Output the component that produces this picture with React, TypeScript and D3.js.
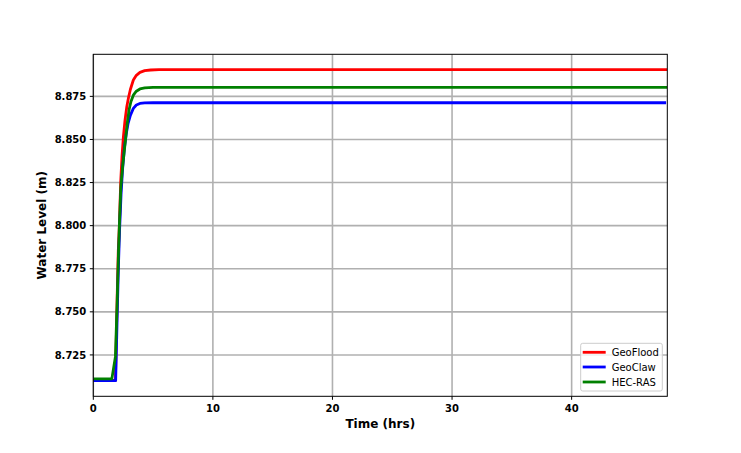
import React from "react";
import * as d3 from "d3";

const xTicks = [0, 10, 20, 30, 40];
const yTicks = [8.725, 8.75, 8.775, 8.8, 8.825, 8.85, 8.875];

const geoFloodT = [0, 1.85, 2.0, 2.09, 2.18, 2.29, 2.4, 2.51, 2.65, 2.8, 2.95, 3.1, 3.35, 3.6, 3.9, 4.3, 4.8, 5.5, 48];
const geoFloodV = [8.7102, 8.7102, 8.76, 8.7857, 8.8002, 8.8251, 8.840, 8.851, 8.861, 8.869, 8.8745, 8.879, 8.8845, 8.8872, 8.8889, 8.8899, 8.8903, 8.8905, 8.8905];

const geoClawT = [0, 1.87, 2.0, 2.1, 2.2, 2.32, 2.45, 2.6, 2.75, 2.9, 3.1, 3.35, 3.6, 3.9, 4.3, 5.0, 47.9];
const geoClawV = [8.7101, 8.7101, 8.748, 8.776, 8.798, 8.818, 8.833, 8.845, 8.853, 8.859, 8.864, 8.868, 8.870, 8.8709, 8.8712, 8.8713, 8.8713];

const hecRasT = [0, 1.55, 1.85, 2.0, 2.1, 2.18, 2.3, 2.45, 2.57, 2.71, 2.85, 3.0, 3.15, 3.35, 3.6, 3.9, 4.3, 5.0, 48];
const hecRasV = [8.7111, 8.7111, 8.724, 8.757, 8.783, 8.800, 8.822, 8.834, 8.842, 8.851, 8.860, 8.8675, 8.872, 8.8757, 8.878, 8.8793, 8.8799, 8.8802, 8.8802];

const seriesNames = ["GeoFlood", "GeoClaw", "HEC-RAS"];
const seriesColors = ["#ff0000", "#0000ff", "#008000"];

const W = 741, H = 453;
const L = 93.3, R = 667.3, T = 54.3, B = 396.3;
const FONT = "DejaVu Sans";

export default function App() {
  const x = d3.scaleLinear().domain([0, 48]).range([L, R]);
  const y = d3.scaleLinear().domain([8.7010, 8.8994]).range([B, T]);
  const line = d3.line<[number, number]>().x(d => x(d[0])).y(d => y(d[1]));
  const series = [
    d3.zip(geoFloodT, geoFloodV) as [number, number][],
    d3.zip(geoClawT, geoClawV) as [number, number][],
    d3.zip(hecRasT, hecRasV) as [number, number][],
  ];
  const drawOrder = [0, 1, 2];
  const legX = 580.7, legY = 343.3, legW = 81.6, legH = 47.7;
  const rowY = [352.3, 367, 382];
  return (
    <svg width={W} height={H} style={{ position: "absolute", left: 0, top: 0 }} fontFamily={FONT}>
      <rect width={W} height={H} fill="#fff" />
      <defs>
        <clipPath id="plot">
          <rect x={L} y={T} width={R - L} height={B - T} />
        </clipPath>
      </defs>
      {xTicks.map(t => (
        <line key={"gx" + t} x1={x(t)} x2={x(t)} y1={T} y2={B} stroke="#b0b0b0" strokeWidth={1.6} />
      ))}
      {yTicks.map(t => (
        <line key={"gy" + t} x1={L} x2={R} y1={y(t)} y2={y(t)} stroke="#b0b0b0" strokeWidth={1.6} />
      ))}
      <g clipPath="url(#plot)">
        {drawOrder.map(i => (
          <path key={i} d={line(series[i]) || ""} fill="none" stroke={seriesColors[i]} strokeWidth={2.8} strokeLinejoin="round" />
        ))}
      </g>
      <rect x={L} y={T} width={R - L} height={B - T} fill="none" stroke="#000" strokeWidth={1} />
      {xTicks.map(t => (
        <g key={"tx" + t}>
          <line x1={x(t)} x2={x(t)} y1={B} y2={B + 3.5} stroke="#000" strokeWidth={1} />
          <text x={x(t)} y={411.7} textAnchor="middle" fontSize={10} fontWeight="bold">{t}</text>
        </g>
      ))}
      {yTicks.map(t => (
        <g key={"ty" + t}>
          <line x1={L - 3.5} x2={L} y1={y(t)} y2={y(t)} stroke="#000" strokeWidth={1} />
          <text x={L - 7} y={y(t) + 3.6} textAnchor="end" fontSize={10} fontWeight="bold">{t.toFixed(3)}</text>
        </g>
      ))}
      <text x={(L + R) / 2} y={427.7} textAnchor="middle" fontSize={12} fontWeight="bold">Time (hrs)</text>
      <text transform={`translate(46,${(T + B) / 2}) rotate(-90)`} textAnchor="middle" fontSize={12} fontWeight="bold">Water Level (m)</text>
      <rect x={legX} y={legY} width={legW} height={legH} rx={2} fill="#fff" fillOpacity={0.8} stroke="#cccccc" strokeWidth={1} />
      {seriesNames.map((n, i) => (
        <g key={n}>
          <line x1={582.7} x2={605.7} y1={rowY[i]} y2={rowY[i]} stroke={seriesColors[i]} strokeWidth={2.8} />
          <text x={611.7} y={rowY[i] + 3.6} fontSize={10}>{n}</text>
        </g>
      ))}
    </svg>
  );
}
